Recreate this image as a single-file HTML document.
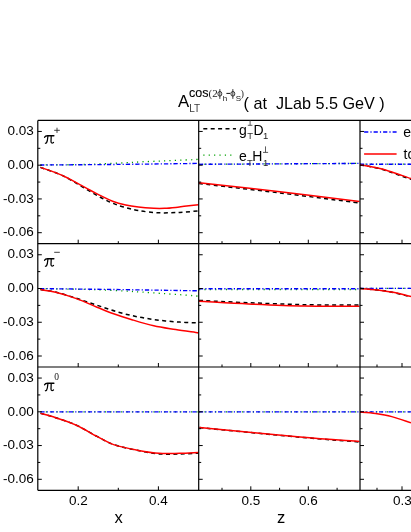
<!DOCTYPE html>
<html><head><meta charset="utf-8"><title>chart</title>
<style>
html,body{margin:0;padding:0;background:#fff;}
body{width:411px;height:532px;overflow:hidden;}
svg{display:block;will-change:transform;font-family:"Liberation Sans",sans-serif;}
.s{font-family:"Liberation Serif",serif;}
</style></head><body>
<svg width="411" height="532" viewBox="0 0 411 532">
<rect width="411" height="532" fill="#fff"/>
<path d="M40.4,165.0 C47.0,164.9 69.8,164.8 80.0,164.6 C90.2,164.4 94.3,164.2 101.7,163.9 C109.1,163.6 117.7,163.2 124.4,162.8 C131.1,162.5 135.3,162.1 141.9,161.8 C148.5,161.5 156.5,161.2 163.8,160.9 C171.1,160.6 179.9,160.2 185.7,160.0 C191.5,159.8 196.3,159.5 198.4,159.4" fill="none" stroke="#00a000" stroke-width="1.3" stroke-dasharray="1.2 4.18"/>
<path d="M199.0,164.3 L360.0,163.4" fill="none" stroke="#00a000" stroke-width="1.3" stroke-dasharray="1.2 4.18"/>
<path d="M40.4,288.6 C47.0,288.7 69.8,289.1 80.0,289.3 C90.2,289.5 94.3,289.7 101.7,290.0 C109.1,290.3 117.7,290.6 124.4,291.0 C131.1,291.4 135.3,291.7 141.9,292.1 C148.5,292.5 156.5,293.1 163.8,293.6 C171.1,294.1 179.9,294.7 185.7,295.1 C191.5,295.5 196.3,296.0 198.4,296.2" fill="none" stroke="#00a000" stroke-width="1.3" stroke-dasharray="1.2 4.18"/>
<path d="M199.0,289.5 L360.0,289.5" fill="none" stroke="#00a000" stroke-width="1.3" stroke-dasharray="1.2 4.18"/>
<path d="M40.4,411.8 L198.4,411.8" fill="none" stroke="#00a000" stroke-width="1.3" stroke-dasharray="1.2 4.18"/>
<path d="M199.0,411.8 L360.0,411.8" fill="none" stroke="#00a000" stroke-width="1.3" stroke-dasharray="1.2 4.18"/>
<path d="M360.0,411.8 L411.0,411.8" fill="none" stroke="#00a000" stroke-width="1.3" stroke-dasharray="1.2 4.18"/>
<path d="M360.0,164.2 L411.0,164.2" fill="none" stroke="#00a000" stroke-width="1.3" stroke-dasharray="1.2 4.18"/>
<path d="M360.0,288.4 L411.0,288.4" fill="none" stroke="#00a000" stroke-width="1.3" stroke-dasharray="1.2 4.18"/>
<path d="M40.4,167.4 C43.3,168.4 53.2,171.7 57.9,173.6 C62.6,175.5 65.1,176.9 68.8,178.8 C72.5,180.8 76.1,183.1 79.8,185.3 C83.5,187.5 87.0,189.7 90.7,191.8 C94.4,193.9 98.1,196.1 101.7,198.0 C105.3,199.9 108.9,201.7 112.6,203.2 C116.2,204.7 119.3,205.8 123.6,207.0 C127.9,208.2 132.5,209.6 138.4,210.6 C144.3,211.6 152.2,212.5 159.1,212.8 C166.0,213.1 173.2,212.7 179.8,212.4 C186.4,212.1 195.3,211.1 198.4,210.8" fill="none" stroke="#000" stroke-width="1.5" stroke-dasharray="4 3.4"/>
<path d="M199.1,183.5 C212.6,185.1 253.3,189.8 280.0,193.0 C306.7,196.2 346.2,201.3 359.5,203.0" fill="none" stroke="#000" stroke-width="1.5" stroke-dasharray="4 3.4"/>
<path d="M360.0,165.0 C361.6,165.2 366.3,165.8 369.8,166.5 C373.3,167.2 377.2,167.9 381.0,169.0 C384.8,170.1 388.9,171.6 392.4,172.8 C395.8,174.0 398.6,175.0 401.7,176.1 C404.8,177.2 409.4,178.8 411.0,179.4" fill="none" stroke="#000" stroke-width="1.5" stroke-dasharray="4 3.4"/>
<path d="M40.5,289.6 C43.0,290.0 49.7,290.7 55.7,292.1 C61.7,293.6 69.5,296.1 76.4,298.3 C83.3,300.5 90.1,302.9 97.0,305.2 C103.9,307.5 110.8,310.0 117.7,312.0 C124.6,314.0 131.5,315.6 138.4,317.0 C145.3,318.4 152.2,319.3 159.1,320.2 C166.0,321.1 173.2,321.7 179.8,322.1 C186.4,322.6 195.3,322.8 198.4,322.9" fill="none" stroke="#000" stroke-width="1.5" stroke-dasharray="4 3.4"/>
<path d="M199.0,300.4 C207.5,300.8 232.3,302.1 250.0,302.8 C267.7,303.5 286.8,304.3 305.0,304.7 C323.2,305.1 350.4,304.9 359.5,305.0" fill="none" stroke="#000" stroke-width="1.5" stroke-dasharray="4 3.4"/>
<path d="M360.0,288.5 C363.5,288.8 375.2,289.7 381.0,290.4 C386.8,291.1 389.5,291.7 394.5,292.8 C399.5,293.9 408.2,296.3 411.0,297.0" fill="none" stroke="#000" stroke-width="1.5" stroke-dasharray="4 3.4"/>
<path d="M40.5,413.4 C43.0,414.1 49.7,415.7 55.7,417.7 C61.7,419.7 69.5,422.1 76.4,425.2 C83.3,428.3 90.8,433.2 97.0,436.4 C103.2,439.6 106.7,442.2 113.6,444.6 C120.5,447.0 130.8,449.1 138.4,450.6 C146.0,452.2 152.2,453.3 159.1,453.9 C166.0,454.5 173.2,454.1 179.8,454.0 C186.4,453.9 195.3,453.3 198.4,453.2" fill="none" stroke="#000" stroke-width="1.5" stroke-dasharray="4 3.4"/>
<path d="M199.5,427.6 C216.2,429.2 273.3,434.8 300.0,437.2 C326.7,439.6 349.6,441.2 359.5,442.0" fill="none" stroke="#000" stroke-width="1.5" stroke-dasharray="4 3.4"/>
<path d="M40.4,165.0 C53.7,164.9 93.7,164.7 120.0,164.4 C146.3,164.1 185.3,163.6 198.4,163.4" fill="none" stroke="#0000ff" stroke-width="1.35" stroke-dasharray="4.2 2.1 1.2 2.0"/>
<path d="M199.0,164.3 L360.0,163.4" fill="none" stroke="#0000ff" stroke-width="1.35" stroke-dasharray="4.2 2.1 1.2 2.0"/>
<path d="M360.0,164.2 L411.0,164.2" fill="none" stroke="#0000ff" stroke-width="1.35" stroke-dasharray="4.2 2.1 1.2 2.0"/>
<path d="M40.4,288.6 C53.7,288.8 93.7,289.2 120.0,289.6 C146.3,290.0 185.3,290.6 198.4,290.8" fill="none" stroke="#0000ff" stroke-width="1.35" stroke-dasharray="4.2 2.1 1.2 2.0"/>
<path d="M199.0,288.7 L360.0,288.7" fill="none" stroke="#0000ff" stroke-width="1.35" stroke-dasharray="4.2 2.1 1.2 2.0"/>
<path d="M360.0,288.4 L411.0,288.4" fill="none" stroke="#0000ff" stroke-width="1.35" stroke-dasharray="4.2 2.1 1.2 2.0"/>
<path d="M40.4,411.8 L198.4,411.8" fill="none" stroke="#0000ff" stroke-width="1.35" stroke-dasharray="4.2 2.1 1.2 2.0"/>
<path d="M199.0,411.8 L360.0,411.8" fill="none" stroke="#0000ff" stroke-width="1.35" stroke-dasharray="4.2 2.1 1.2 2.0"/>
<path d="M360.0,411.8 L411.0,411.8" fill="none" stroke="#0000ff" stroke-width="1.35" stroke-dasharray="4.2 2.1 1.2 2.0"/>
<path d="M40.4,167.4 C43.3,168.4 53.2,171.7 57.9,173.6 C62.6,175.5 65.1,176.8 68.8,178.6 C72.5,180.4 76.1,182.6 79.8,184.6 C83.5,186.6 87.0,188.6 90.7,190.5 C94.4,192.4 98.1,194.4 101.7,196.2 C105.3,198.0 108.6,199.7 112.6,201.2 C116.6,202.7 121.5,204.0 125.8,205.0 C130.1,206.0 133.7,206.5 138.4,207.1 C143.1,207.7 149.4,208.1 153.8,208.3 C158.2,208.5 161.0,208.5 164.7,208.3 C168.3,208.2 172.0,207.8 175.7,207.4 C179.3,207.0 182.8,206.4 186.6,206.0 C190.4,205.6 196.4,205.0 198.4,204.8" fill="none" stroke="#ff0000" stroke-width="1.5"/>
<path d="M199.1,182.7 C212.6,184.2 253.3,188.7 280.0,191.8 C306.7,194.9 346.2,199.8 359.5,201.4" fill="none" stroke="#ff0000" stroke-width="1.5"/>
<path d="M360.0,165.0 C361.6,165.2 366.3,165.9 369.8,166.5 C373.3,167.1 377.2,167.9 381.0,168.8 C384.8,169.8 388.9,171.1 392.4,172.2 C395.8,173.3 398.6,174.3 401.7,175.4 C404.8,176.5 409.4,178.1 411.0,178.6" fill="none" stroke="#ff0000" stroke-width="1.5"/>
<path d="M40.5,289.6 C43.0,290.1 49.7,290.8 55.7,292.3 C61.7,293.8 69.5,296.1 76.4,298.6 C83.3,301.1 90.8,304.7 97.0,307.2 C103.2,309.7 107.8,311.7 113.6,313.8 C119.4,315.9 125.2,317.7 131.9,319.7 C138.6,321.7 146.5,324.1 153.8,325.8 C161.1,327.5 168.3,328.4 175.7,329.6 C183.1,330.8 194.6,332.3 198.4,332.9" fill="none" stroke="#ff0000" stroke-width="1.5"/>
<path d="M199.0,301.2 C207.2,301.6 230.9,303.1 248.5,303.9 C266.1,304.7 286.2,305.6 304.7,306.0 C323.2,306.4 350.4,306.2 359.5,306.3" fill="none" stroke="#ff0000" stroke-width="1.5"/>
<path d="M360.0,288.5 C363.5,288.8 375.2,289.7 381.0,290.4 C386.8,291.1 389.5,291.6 394.5,292.6 C399.5,293.6 408.2,295.9 411.0,296.6" fill="none" stroke="#ff0000" stroke-width="1.5"/>
<path d="M40.5,413.4 C43.0,414.1 49.7,415.7 55.7,417.7 C61.7,419.7 69.5,422.1 76.4,425.2 C83.3,428.3 90.8,433.2 97.0,436.4 C103.2,439.6 106.7,442.3 113.6,444.6 C120.5,446.9 130.8,448.9 138.4,450.4 C146.0,451.8 152.2,452.8 159.1,453.3 C166.0,453.8 173.2,453.4 179.8,453.3 C186.4,453.2 195.3,452.6 198.4,452.5" fill="none" stroke="#ff0000" stroke-width="1.5"/>
<path d="M199.5,427.6 C216.2,429.2 273.3,434.6 300.0,436.9 C326.7,439.2 349.6,440.6 359.5,441.4" fill="none" stroke="#ff0000" stroke-width="1.5"/>
<path d="M360.0,412.0 C362.6,412.2 370.3,412.6 375.6,413.4 C380.9,414.2 385.9,415.0 391.8,416.6 C397.7,418.2 407.8,421.8 411.0,422.8" fill="none" stroke="#ff0000" stroke-width="1.5"/>
<path d="M203.3,128.7H236" stroke="#000" stroke-width="1.5" stroke-dasharray="4 3.4" fill="none"/>
<path d="M203.3,155.1H232" stroke="#00a000" stroke-width="1.3" stroke-dasharray="1.2 4.18" fill="none"/>
<path d="M364.1,132.0H396.6" stroke="#0000ff" stroke-width="1.4" stroke-dasharray="4.2 2.1 1.2 2.0" fill="none"/>
<path d="M364.1,154.05H396.6" stroke="#ff0000" stroke-width="1.6" fill="none"/>
<g stroke="#000" stroke-width="1.2" fill="none">
<path d="M37.8,120.4H413 M37.8,243.7H413 M37.8,367.0H413 M37.8,490.3H413"/>
<path d="M37.8,120.4V490.3 M198.7,120.4V490.3 M360.0,120.4V490.3"/>
</g>
<g stroke="#000" stroke-width="1" fill="none">
<path d="M37.8,131.45h4 M37.8,165.20h4 M37.8,198.95h4 M37.8,232.70h4 M37.8,148.32h2.5 M37.8,182.07h2.5 M37.8,215.82h2.5 M198.7,131.45h4 M198.7,165.20h4 M198.7,198.95h4 M198.7,232.70h4 M198.7,148.32h2.5 M198.7,182.07h2.5 M198.7,215.82h2.5 M360.0,131.45h4 M360.0,165.20h4 M360.0,198.95h4 M360.0,232.70h4 M360.0,148.32h2.5 M360.0,182.07h2.5 M360.0,215.82h2.5 M37.8,254.75h4 M37.8,288.50h4 M37.8,322.25h4 M37.8,356.00h4 M37.8,271.62h2.5 M37.8,305.38h2.5 M37.8,339.12h2.5 M198.7,254.75h4 M198.7,288.50h4 M198.7,322.25h4 M198.7,356.00h4 M198.7,271.62h2.5 M198.7,305.38h2.5 M198.7,339.12h2.5 M360.0,254.75h4 M360.0,288.50h4 M360.0,322.25h4 M360.0,356.00h4 M360.0,271.62h2.5 M360.0,305.38h2.5 M360.0,339.12h2.5 M37.8,378.05h4 M37.8,411.80h4 M37.8,445.55h4 M37.8,479.30h4 M37.8,394.93h2.5 M37.8,428.68h2.5 M37.8,462.43h2.5 M198.7,378.05h4 M198.7,411.80h4 M198.7,445.55h4 M198.7,479.30h4 M198.7,394.93h2.5 M198.7,428.68h2.5 M198.7,462.43h2.5 M360.0,378.05h4 M360.0,411.80h4 M360.0,445.55h4 M360.0,479.30h4 M360.0,394.93h2.5 M360.0,428.68h2.5 M360.0,462.43h2.5 M78.2,243.7v-4 M158.4,243.7v-4 M118.3,243.7v-2.5 M250.8,243.7v-4 M308.3,243.7v-4 M222.0,243.7v-2.5 M279.6,243.7v-2.5 M337.1,243.7v-2.5 M402,243.7v-4 M377,243.7v-2.5 M78.2,367.0v-4 M158.4,367.0v-4 M118.3,367.0v-2.5 M250.8,367.0v-4 M308.3,367.0v-4 M222.0,367.0v-2.5 M279.6,367.0v-2.5 M337.1,367.0v-2.5 M402,367.0v-4 M377,367.0v-2.5 M78.2,490.3v-4 M158.4,490.3v-4 M118.3,490.3v-2.5 M250.8,490.3v-4 M308.3,490.3v-4 M222.0,490.3v-2.5 M279.6,490.3v-2.5 M337.1,490.3v-2.5 M402,490.3v-4 M377,490.3v-2.5"/>
</g>
<g fill="#000" font-size="13.5px" text-anchor="end">
<text x="33.7" y="135.1">0.03</text>
<text x="33.7" y="168.9">0.00</text>
<text x="33.7" y="202.6">-0.03</text>
<text x="33.7" y="236.4">-0.06</text>
<text x="33.7" y="258.4">0.03</text>
<text x="33.7" y="292.2">0.00</text>
<text x="33.7" y="325.9">-0.03</text>
<text x="33.7" y="359.7">-0.06</text>
<text x="33.7" y="381.8">0.03</text>
<text x="33.7" y="415.5">0.00</text>
<text x="33.7" y="449.2">-0.03</text>
<text x="33.7" y="483.0">-0.06</text>
</g>
<g fill="#000" font-size="13.5px" text-anchor="middle">
<text x="78.3" y="504.5">0.2</text>
<text x="158.4" y="504.5">0.4</text>
<text x="250.9" y="504.5">0.5</text>
<text x="308.3" y="504.5">0.6</text>
<text x="402.3" y="504.5">0.3</text>
</g>
<g fill="#000" font-size="16.5px" text-anchor="middle">
<text x="118.6" y="522.9">x</text><text x="281" y="522.9">z</text>
</g>
<g transform="translate(0,0)" fill="none" stroke="#000" stroke-linecap="round" stroke-linejoin="round">
<path d="M44.6,137.3 C45.1,136.0 46.0,135.75 47.6,135.75 L53.9,135.75" stroke-width="1.35"/>
<path d="M47.9,136.2 C47.7,139.0 47.4,141.4 46.5,142.8 C46.2,143.3 45.7,143.4 45.4,143.1" stroke-width="1.25"/>
<path d="M51.2,136.2 L51.0,141.6 C51.0,143.2 52.1,143.5 53.5,142.4" stroke-width="1.25"/>
</g>
<g transform="translate(0,123.0)" fill="none" stroke="#000" stroke-linecap="round" stroke-linejoin="round">
<path d="M44.6,137.3 C45.1,136.0 46.0,135.75 47.6,135.75 L53.9,135.75" stroke-width="1.35"/>
<path d="M47.9,136.2 C47.7,139.0 47.4,141.4 46.5,142.8 C46.2,143.3 45.7,143.4 45.4,143.1" stroke-width="1.25"/>
<path d="M51.2,136.2 L51.0,141.6 C51.0,143.2 52.1,143.5 53.5,142.4" stroke-width="1.25"/>
</g>
<g transform="translate(0,247.5)" fill="none" stroke="#000" stroke-linecap="round" stroke-linejoin="round">
<path d="M44.6,137.3 C45.1,136.0 46.0,135.75 47.6,135.75 L53.9,135.75" stroke-width="1.35"/>
<path d="M47.9,136.2 C47.7,139.0 47.4,141.4 46.5,142.8 C46.2,143.3 45.7,143.4 45.4,143.1" stroke-width="1.25"/>
<path d="M51.2,136.2 L51.0,141.6 C51.0,143.2 52.1,143.5 53.5,142.4" stroke-width="1.25"/>
</g>
<path d="M54.2,130.3H59.8M57,127.7V132.9" stroke="#2a2a2a" stroke-width="0.9" fill="none"/>
<path d="M54.2,252.3H59.8" stroke="#2a2a2a" stroke-width="0.9" fill="none"/>
<text class="s" x="54.3" y="379.9" font-size="9.5px" fill="#111">0</text>
<text x="178" y="106.9" font-size="16.8px" fill="#000">A</text>
<text x="189.3" y="112.3" font-size="10px" fill="#3a3a3a">LT</text>
<text x="189.0" y="96.5" font-size="12.5px" fill="#000" stroke="#000" stroke-width="0.1">cos</text>
<text class="s" x="208.6" y="96.8" font-size="11px" fill="#222">(2</text>
<ellipse cx="219.85" cy="93.8" rx="1.95" ry="2.35" fill="none" stroke="#222" stroke-width="0.9"/>
<path d="M219.85,89.1V98.9" stroke="#222" stroke-width="0.9" fill="none"/>
<ellipse cx="232.85" cy="93.8" rx="1.95" ry="2.35" fill="none" stroke="#222" stroke-width="0.9"/>
<path d="M232.85,89.1V98.9" stroke="#222" stroke-width="0.9" fill="none"/>
<text x="222.7" y="100.7" font-size="8px" fill="#111">h</text>
<path d="M226.4,93.4H230.2" stroke="#111" stroke-width="1" fill="none"/>
<text x="235.8" y="100.7" font-size="8px" fill="#111">S</text>
<text class="s" x="240.6" y="97.1" font-size="10.5px" fill="#333">)</text>
<text x="243.5" y="109.3" font-size="16.2px" fill="#000" xml:space="preserve">( at  JLab 5.5 GeV )</text>
<g fill="#000">
<text x="239" y="134.7" font-size="14px">g</text>
<text x="247.3" y="139.2" font-size="9.5px" fill="#333">T</text>
<path d="M247.8,125.3h4.6M250.1,125.3v-5.2" stroke="#333" stroke-width="0.8" fill="none"/>
<text x="253.6" y="134.7" font-size="14px">D</text>
<text x="263.0" y="139.2" font-size="9.5px" fill="#222">1</text>
<text x="239" y="160.6" font-size="14px">e</text>
<text x="247.0" y="165.6" font-size="9.5px" fill="#333">T</text>
<text x="252.3" y="160.6" font-size="14px">H</text>
<text x="262.9" y="165.6" font-size="9.5px" fill="#222">1</text>
<path d="M263,152.4h5.1M265.5,152.4v-6" stroke="#333" stroke-width="0.8" fill="none"/>
<text x="403.3" y="136.6" font-size="14px">e</text>
<text x="403.5" y="158.7" font-size="14px">to</text>
</g>
</svg></body></html>
